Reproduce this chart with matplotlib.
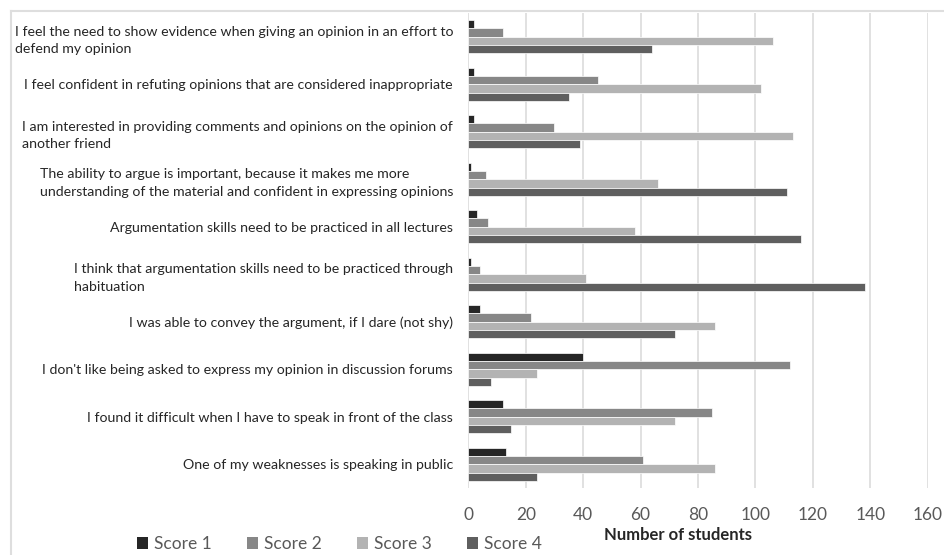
import matplotlib
matplotlib.use("Agg")
import matplotlib.pyplot as plt
from matplotlib.patches import Patch
from matplotlib.lines import Line2D
import numpy as np

# Survey statements (top to bottom)
statements = [
    "I feel the need to show evidence when giving an opinion in an effort to\ndefend my opinion",
    "I feel confident in refuting opinions that are considered inappropriate",
    "I am interested in providing comments and opinions on the opinion of\nanother friend",
    "The ability to argue is important, because it makes me more\nunderstanding of the material and confident in expressing opinions",
    "Argumentation skills need to be practiced in all lectures",
    "I think that argumentation skills need to be practiced through\nhabituation",
    "I was able to convey the argument, if I dare (not shy)",
    "I don't like being asked to express my opinion in discussion forums",
    "I found it difficult when I have to speak in front of the class",
    "One of my weaknesses is speaking in public",
]

# Number of students giving each score
score1 = [2, 2, 2, 1, 3, 1, 4, 40, 12, 13]
score2 = [12, 45, 30, 6, 7, 4, 22, 112, 85, 61]
score3 = [106, 102, 113, 66, 58, 41, 86, 24, 72, 86]
score4 = [64, 35, 39, 111, 116, 138, 72, 8, 15, 24]

series_names = ["Score 1", "Score 2", "Score 3", "Score 4"]
x_ticks = [0, 20, 40, 60, 80, 100, 120, 140, 160]
x_label = "Number of students"

colors = ["#262626", "#878787", "#b3b3b3", "#5f5f5f"]
font = ["Lato", "DejaVu Sans"]

W, H = 944, 555
fig = plt.figure(figsize=(W / 100, H / 100), dpi=100)
fig.patch.set_facecolor("white")

# plot area in pixel coordinates
left_px, right_px, top_px, bottom_px = 468.3, 927.7, 13, 488
ax = fig.add_axes([left_px / W, 1 - bottom_px / H,
                   (right_px - left_px) / W, (bottom_px - top_px) / H])

y = np.arange(len(statements))
bar_step = 0.175
all_scores = [score1, score2, score3, score4]
for i, (vals, name, col) in enumerate(zip(all_scores, series_names, colors)):
    ax.barh(y + (i - 1.5) * bar_step, vals, height=bar_step, color=col,
            edgecolor="white", linewidth=0.5, label=name, zorder=3)

ax.set_xlim(0, 160)
ax.set_ylim(len(statements) - 0.5, -0.5)
ax.set_xticks(x_ticks)
ax.set_xticklabels([str(t) for t in x_ticks])
ax.set_yticks(y)
ax.set_yticklabels(statements)

ax.grid(axis="x", color="#d9d9d9", linewidth=1.1, zorder=0)
ax.grid(axis="y", visible=False)
for s in ax.spines.values():
    s.set_visible(False)

ax.tick_params(axis="both", length=0)
ax.tick_params(axis="x", pad=14, labelsize=12.5, labelcolor="#595959")
ax.tick_params(axis="y", pad=11, labelcolor="#262626")
for lbl in ax.get_xticklabels():
    lbl.set_fontfamily(font)
for lbl in ax.get_yticklabels():
    lbl.set_fontfamily(font)
    lbl.set_fontsize(10.2)
    lbl.set_multialignment("left")
    lbl.set_linespacing(1.55)

fig.text(678 / W, 1 - 535 / H, x_label, ha="center", va="center",
         fontsize=12, fontweight="bold", color="#262626", family=font)

handles = [Patch(facecolor=c, edgecolor="none") for c in colors]
fig.legend(handles, series_names, loc="center left",
           bbox_to_anchor=(137 / W, 1 - 544 / H), ncol=4, frameon=False,
           borderpad=0, borderaxespad=0, handlelength=0.65, handleheight=0.65,
           handletextpad=0.35, columnspacing=2.0,
           prop={"family": font, "size": 12.5}, labelcolor="#595959")

# chart frame
fig.add_artist(Line2D([10.5 / W, 1.0], [1 - 10.5 / H, 1 - 10.5 / H],
                      transform=fig.transFigure, color="#dedede", linewidth=1.5))
fig.add_artist(Line2D([10.5 / W, 10.5 / W], [1 - 10.5 / H, 0.0],
                      transform=fig.transFigure, color="#dedede", linewidth=1.5))

fig.savefig("out.png", dpi=100, facecolor="white")
